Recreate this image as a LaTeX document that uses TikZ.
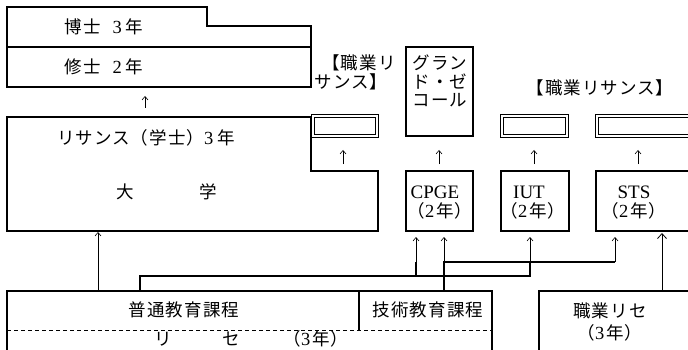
\documentclass[tikz,border=0pt]{standalone}
\usepackage{fontspec}
\setmainfont{Liberation Serif}
\newfontfamily\cjk[LetterSpace=6]{Noto Sans CJK JP}
\usetikzlibrary{arrows.meta}
\newcommand{\dg}[1]{{\rmfamily\fontsize{18.5}{19}\selectfont #1}}
\begin{document}
\begin{tikzpicture}[x=1pt,y=-1pt,
  box/.style={line width=1.1pt},
  thin/.style={line width=0.8pt},
  route/.style={line width=1.1pt},
  arr/.style={line width=0.6pt,-{Straight Barb[length=3.5pt,width=6pt]}},
  bigarr/.style={line width=0.8pt,-{Straight Barb[length=5pt,width=9pt]}},
  lbl/.style={inner sep=0pt,font=\cjk\fontsize{17.5}{19}\selectfont},
  lowlbl/.style={lbl,text height=13pt,text depth=2pt},
  lat/.style={inner sep=0pt,font=\fontsize{19}{21}\selectfont}]
\useasboundingbox (0,0) rectangle (688,350);
\clip (0,0) rectangle (688,350);

% ---- doctorate / master
\draw[box] (7,87) -- (7,7) -- (207,7) -- (207,26) -- (311,26) -- (311,87) -- cycle;
\draw[box] (7,47) -- (311,47);
\node[lbl] (phd) at (104,27) {博士\hspace{12pt}\dg{3}\hspace{4pt}年};
\node[lbl] (ms) at (104,67) {修士\hspace{12pt}\dg{2}\hspace{4pt}年};

% ---- university
\draw[box] (7,117) -- (311,117) -- (311,171) -- (378,171) -- (378,231) -- (7,231) -- cycle;
\node[lbl] (lic) at (146,138) {リサンス（学士）\dg{3}\hspace{4pt}年};
\node[lbl] (dai) at (125,192) {大};
\node[lbl] (gaku) at (208,192) {学};

% ---- professional licence boxes (double outline)
\draw[thin] (311,114.5) rectangle (378.5,137.5);
\draw[thin] (314,117.5) rectangle (375.5,134.5);
\draw[thin] (500.5,114.5) rectangle (568.5,137.5);
\draw[thin] (503.5,117.5) rectangle (565.5,134.5);
\draw[thin] (595.5,114.5) rectangle (700,137.5);
\draw[thin] (598.5,117.5) rectangle (700,134.5);
\node[lbl] (pl1) at (359,63) {【職業リ};
\node[lbl] (pl2) at (351,82) {サンス】};
\node[lbl] (pl3) at (600,88) {【職業リサンス】};

% ---- grandes ecoles
\draw[box] (406,47) rectangle (473,136);
\node[lbl] (ge1) at (440,63) {グラン};
\node[lbl] (ge2) at (440,82) {ド・ゼ};
\node[lbl] (ge3) at (440,100) {コール};

% ---- CPGE, IUT, STS
\draw[box] (406,171) rectangle (473,231);
\draw[box] (501,171) rectangle (569,231);
\draw[box] (596,171) rectangle (700,231);
\node[lat] (cpge) at (435,192) {CPGE};
\node[lbl] (cpgey) at (440,211) {（\dg{2}\hspace{2pt}年）};
\node[lat] (iut) at (529,192) {IUT};
\node[lbl] (iuty) at (533,211) {（\dg{2}\hspace{2pt}年）};
\node[lat] (sts) at (634,192) {STS};
\node[lbl] (stsy) at (634,211) {（\dg{2}\hspace{2pt}年）};

% ---- lycee
\draw[box] (7,352) -- (7,291) -- (492,291) -- (492,352);
\draw[box] (359,291) -- (359,330);
\draw[line width=1pt,dash pattern=on 4pt off 3pt] (7,330) -- (492,330);
\node[lbl] (gen) at (184,310) {普通教育課程};
\node[lbl] (tech) at (428,310) {技術教育課程};
\node[lowlbl] (ly1) at (163,340) {リ};
\node[lowlbl] (ly2) at (231,340) {セ};
\node[lowlbl] (ly3) at (316,340) {（\dg{3}\hspace{2pt}年）};

\draw[box] (539,352) -- (539,291) -- (700,291);
\node[lbl] (pro) at (610,311) {職業リセ};
\node[lbl] (proy) at (610,333) {（\dg{3}\hspace{2pt}年）};

% ---- vertical arrows between levels
\coordinate (a1s) at (145,108); \coordinate (a1e) at (145,96);
\coordinate (a2s) at (343,164); \coordinate (a2e) at (343,150);
\coordinate (a3s) at (439,164); \coordinate (a3e) at (439,150);
\coordinate (a4s) at (534,164); \coordinate (a4e) at (534,150);
\coordinate (a5s) at (638,164); \coordinate (a5e) at (638,150);
\draw[arr] (a1s) -- (a1e);
\draw[arr] (a2s) -- (a2e);
\draw[arr] (a3s) -- (a3e);
\draw[arr] (a4s) -- (a4e);
\draw[arr] (a5s) -- (a5e);

% ---- from lycee upward
\coordinate (g0) at (98,291);  \coordinate (u0) at (98,232);
\draw[arr] (g0) -- (u0);

\coordinate (g1) at (140,291);
\coordinate (k1) at (140,276);
\coordinate (k2) at (530,276);
\coordinate (k3) at (416,276);
\coordinate (t1) at (444,291);
\coordinate (j1) at (444,262);
\coordinate (j2) at (615,262);
\coordinate (iutb) at (530,262);
\coordinate (cpb) at (416,262);
\draw[route] (g1) -- (k1) -- (k2) -- (iutb);
\draw[route] (k3) -- (cpb);
\draw[route] (t1) -- (j1) -- (j2);
\draw[arr] (cpb) -- (416,237);
\draw[arr] (j1) -- (444,237);
\draw[arr] (iutb) -- (530,237);
\draw[arr] (j2) -- (615,237);

\coordinate (p0) at (662,291); \coordinate (p1) at (662,233);
\draw[bigarr] (p0) -- (p1);
\end{tikzpicture}
\end{document}
